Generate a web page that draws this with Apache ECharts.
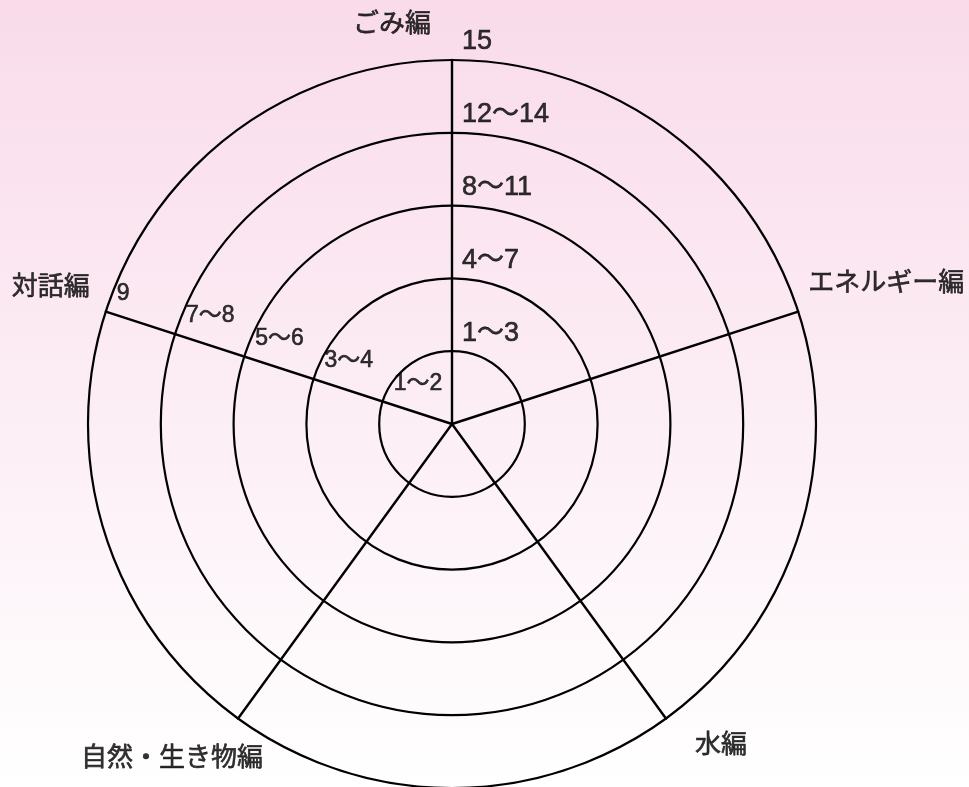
<!DOCTYPE html>
<html><head><meta charset="utf-8">
<script src="https://cdn.jsdelivr.net/npm/echarts@6/dist/echarts.min.js"></script>
<style>html,body{margin:0;padding:0;background:#fff;} #c{width:969px;height:787px;}</style>
</head><body><div id="c"></div>
<script>
// ---- data ----
const indicatorNames = ['ごみ編', '対話編', '自然・生き物編', '水編', 'エネルギー編'];
const levels = [1, 2, 3, 4, 5];
const gomiLabels = ['1〜3', '4〜7', '8〜11', '12〜14', '15'];
const taiwaLabels = ['1〜2', '3〜4', '5〜6', '7〜8', '9'];

// ---- layout / style ----
const FONT = '"Liberation Sans", "Noto Sans CJK JP", sans-serif';
const CJK = '"Noto Sans CJK JP", sans-serif';
const CENTER = [452, 424];
const RADIUS = 364;
const STEP = 360 / indicatorNames.length;
const nameOffsets = [[-60, -38], [-55, -26], [-66, 38], [55, 25], [88, -30]];
const ink = { color: '#000', textBorderColor: '#000', textBorderWidth: 0.6 };

const chart = echarts.init(document.getElementById('c'));
const textSeries = (data, extra) => Object.assign({
  type: 'scatter', coordinateSystem: 'polar', symbolSize: 1,
  itemStyle: { color: 'transparent' }, silent: true, data: data, z: 10
}, extra);

chart.setOption({
  animation: false,
  backgroundColor: { type: 'linear', x: 0, y: 0, x2: 0, y2: 1,
    colorStops: [{ offset: 0, color: '#f9dbea' }, { offset: 1, color: '#ffffff' }] },
  radar: {
    center: CENTER, radius: RADIUS, startAngle: 90, shape: 'circle', splitNumber: levels.length,
    indicator: indicatorNames.map(n => ({ name: n, min: 0, max: levels.length })),
    axisName: { show: false },
    axisLine: { lineStyle: { color: '#000', width: 2.4 } },
    splitLine: { lineStyle: { color: '#000', width: 2.2 } },
    splitArea: { show: false },
    axisTick: { show: false }, axisLabel: { show: false }
  },
  polar: { center: CENTER, radius: RADIUS },
  angleAxis: { type: 'value', min: 0, max: 360, startAngle: 90, clockwise: false, show: false },
  radiusAxis: { type: 'value', min: 0, max: levels.length, show: false },
  series: [
    { type: 'radar', data: [] },
    textSeries(levels.map((r, i) => ({ value: [r, 0], name: gomiLabels[i] })), {
      label: Object.assign({ show: true, position: 'inside', align: 'left', verticalAlign: 'middle',
        offset: [10, -18], formatter: p => p.name, fontSize: 27, fontFamily: FONT }, ink)
    }),
    textSeries(levels.map((r, i) => ({ value: [r, STEP], name: taiwaLabels[i] })), {
      label: Object.assign({ show: true, position: 'inside', align: 'left', verticalAlign: 'middle',
        offset: [11, -18], formatter: p => p.name, fontSize: 23, fontFamily: FONT }, ink)
    }),
    textSeries(indicatorNames.map((n, i) => ({ value: [levels.length, i * STEP], name: n,
        label: { offset: nameOffsets[i] } })), {
      label: Object.assign({ show: true, position: 'inside', align: 'center', verticalAlign: 'middle',
        formatter: p => p.name, fontSize: 26, fontFamily: CJK }, ink)
    })
  ]
});
</script></body></html>
